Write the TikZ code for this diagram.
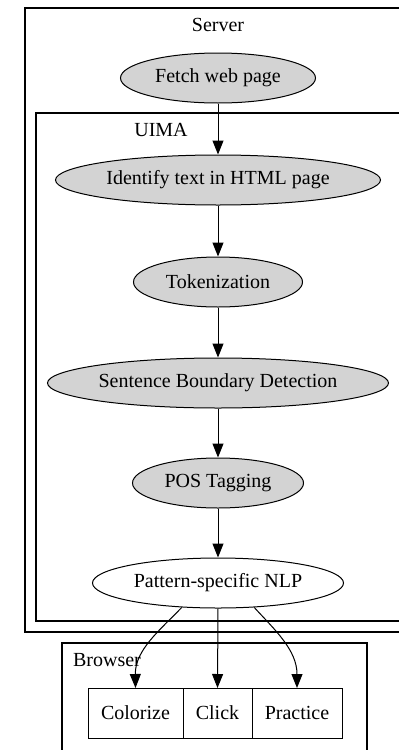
\documentclass[tikz,border=0pt]{standalone}
\usepackage{fontspec}
\setmainfont{Liberation Serif}
\usetikzlibrary{arrows.meta,positioning,shapes.geometric}
\definecolor{procgray}{HTML}{D3D3D3}
\tikzset{
  proc/.style={ellipse, draw, fill=procgray, line width=0.5pt, minimum height=25pt, inner sep=0.5pt},
  cell/.style={rectangle, draw, line width=0.5pt, minimum height=25pt, outer sep=0pt, inner sep=0pt},
  cluster/.style={draw, line width=0.6pt},
  flow/.style={-{Triangle[length=7pt,width=5.5pt]}, line width=0.5pt},
}
\begin{document}
\begin{tikzpicture}[x=0.5pt,y=-0.5pt]
  \useasboundingbox (0,0) rectangle (399,750);
  \clip (0,0) rectangle (399,750);
  \draw[cluster] (25,8) rectangle (430,632);
  \node (server) at (218,25) {Server};
  \draw[cluster] (36,113) rectangle (420,621);
  \node (uima) at (161,130) {UIMA};
  \draw[cluster] (62,643) rectangle (367,770);
  \node (browser) at (107,660) {Browser};

  \node[proc, minimum width=97.5pt] (fetch) at (218,78) {Fetch web page};
  \node[proc, minimum width=162.5pt] (identify) at (218,180) {Identify text in HTML page};
  \node[proc, minimum width=84.5pt] (tok) at (218,282) {Tokenization};
  \node[proc, minimum width=170.5pt] (sbd) at (218,383) {Sentence Boundary Detection};
  \node[proc, minimum width=85.5pt] (pos) at (218,483) {POS Tagging};
  \node[proc, fill=white, minimum width=125.5pt] (nlp) at (218,583) {Pattern-specific NLP};

  \node[cell, minimum width=47.5pt] (colorize) at (135.5,713) {Colorize};
  \node[cell, minimum width=34.5pt, right=0pt of colorize] (click) {Click};
  \node[cell, minimum width=45pt, right=0pt of click] (practice) {Practice};

  \draw[flow] (fetch) -- (identify);
  \draw[flow] (identify) -- (tok);
  \draw[flow] (tok) -- (sbd);
  \draw[flow] (sbd) -- (pos);
  \draw[flow] (pos) -- (nlp);
  \draw[flow] (nlp.214) .. controls (160,630) and (135,650) .. (colorize.north);
  \draw[flow] (nlp.south) -- (click.north);
  \draw[flow] (nlp.326) .. controls (275,630) and (297,650) .. (practice.north);
\end{tikzpicture}
\end{document}
